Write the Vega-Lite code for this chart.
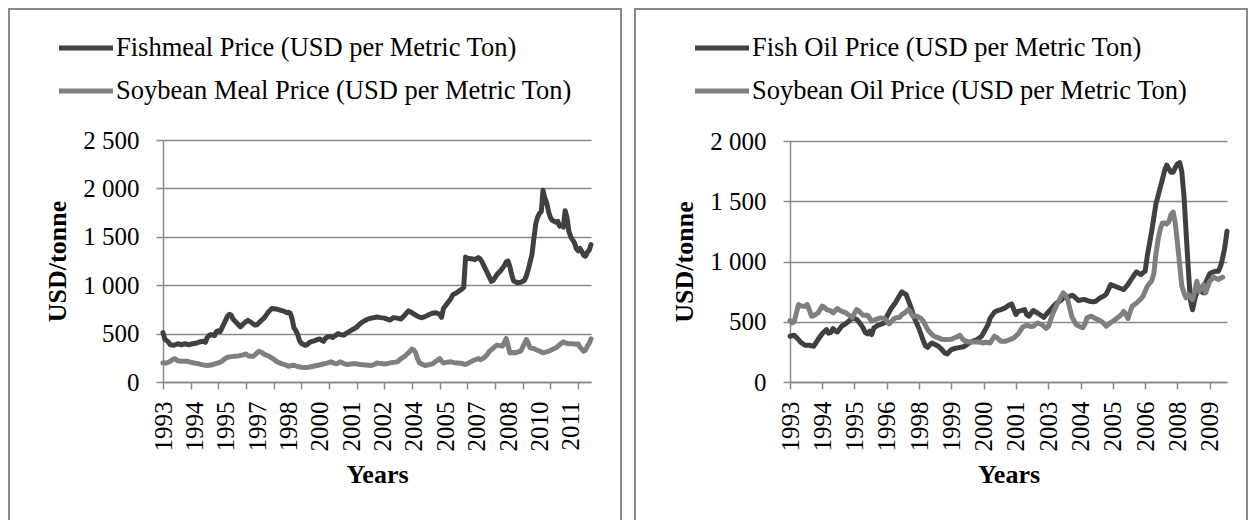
{
  "$schema": "https://vega.github.io/schema/vega-lite/v6.json",
  "background": "white",
  "padding": {"left": 8, "top": 8, "right": 0, "bottom": -5},
  "spacing": 12,
  "config": {
    "font": "Liberation Serif",
    "view": {"stroke": "#898989", "strokeWidth": 2},
    "axis": {"domainColor": "#898989", "domainWidth": 1.5, "tickColor": "#898989", "tickWidth": 1.5, "tickSize": 7, "gridColor": "#898989", "gridWidth": 1.5, "labelFont": "Liberation Serif", "labelFontSize": 25, "labelColor": "#000000", "titleFont": "Liberation Serif", "titleFontSize": 26, "titleFontWeight": "bold", "titleColor": "#000000"},
    "legend": {"labelFont": "Liberation Serif", "labelFontSize": 26.5, "labelColor": "#000000", "labelLimit": 1000, "symbolType": "M-2,0H2", "symbolSize": 729, "symbolStrokeWidth": 5, "labelOffset": 14, "rowPadding": 13, "padding": 0}
  },
  "datasets": {
    "fm": [
      {"d":"1993-01","v":510},{"d":"1993-02","v":440},{"d":"1993-03","v":430},{"d":"1993-04","v":410},{"d":"1993-05","v":385},{"d":"1993-07","v":380},{"d":"1993-09","v":395},{"d":"1993-11","v":385},
      {"d":"1994-01","v":395},{"d":"1994-03","v":385},{"d":"1994-05","v":395},{"d":"1994-07","v":400},{"d":"1994-09","v":415},{"d":"1994-11","v":420},{"d":"1994-12","v":410},
      {"d":"1995-01","v":460},{"d":"1995-02","v":480},{"d":"1995-03","v":490},{"d":"1995-05","v":480},{"d":"1995-06","v":520},{"d":"1995-07","v":530},{"d":"1995-08","v":520},{"d":"1995-09","v":560},{"d":"1995-11","v":640},{"d":"1995-12","v":680},
      {"d":"1996-01","v":700},{"d":"1996-02","v":690},{"d":"1996-03","v":650},{"d":"1996-05","v":610},{"d":"1996-06","v":590},{"d":"1996-07","v":570},{"d":"1996-08","v":590},{"d":"1996-09","v":610},{"d":"1996-11","v":637},{"d":"1996-12","v":625},
      {"d":"1997-01","v":612},{"d":"1997-03","v":588},{"d":"1997-04","v":590},{"d":"1997-06","v":630},{"d":"1997-08","v":665},{"d":"1997-10","v":720},{"d":"1997-11","v":740},{"d":"1997-12","v":760},
      {"d":"1998-02","v":755},{"d":"1998-04","v":745},{"d":"1998-06","v":735},{"d":"1998-07","v":728},{"d":"1998-08","v":715},{"d":"1998-09","v":720},{"d":"1998-10","v":710},{"d":"1998-11","v":650},{"d":"1998-12","v":560},
      {"d":"1999-01","v":530},{"d":"1999-02","v":490},{"d":"1999-03","v":430},{"d":"1999-04","v":400},{"d":"1999-05","v":390},{"d":"1999-06","v":380},{"d":"1999-07","v":385},{"d":"1999-09","v":415},{"d":"1999-11","v":425},
      {"d":"2000-01","v":440},{"d":"2000-02","v":445},{"d":"2000-03","v":430},{"d":"2000-04","v":420},{"d":"2000-05","v":450},{"d":"2000-06","v":465},{"d":"2000-08","v":470},{"d":"2000-09","v":460},{"d":"2000-10","v":474},{"d":"2000-12","v":500},
      {"d":"2001-01","v":490},{"d":"2001-03","v":484},{"d":"2001-05","v":510},{"d":"2001-07","v":533},{"d":"2001-09","v":555},{"d":"2001-10","v":567},{"d":"2001-12","v":605},
      {"d":"2002-02","v":630},{"d":"2002-04","v":650},{"d":"2002-06","v":660},{"d":"2002-09","v":671},{"d":"2002-11","v":665},
      {"d":"2003-01","v":660},{"d":"2003-04","v":640},{"d":"2003-06","v":665},{"d":"2003-08","v":660},{"d":"2003-10","v":650},{"d":"2003-12","v":690},
      {"d":"2004-02","v":735},{"d":"2004-04","v":715},{"d":"2004-06","v":690},{"d":"2004-08","v":670},{"d":"2004-09","v":664},{"d":"2004-11","v":675},
      {"d":"2005-01","v":695},{"d":"2005-03","v":710},{"d":"2005-05","v":716},{"d":"2005-07","v":700},{"d":"2005-08","v":668},{"d":"2005-09","v":760},{"d":"2005-11","v":810},
      {"d":"2006-01","v":860},{"d":"2006-02","v":900},{"d":"2006-04","v":920},{"d":"2006-05","v":934},{"d":"2006-07","v":960},{"d":"2006-08","v":975},{"d":"2006-09","v":1290},{"d":"2006-10","v":1280},{"d":"2006-11","v":1275},
      {"d":"2007-01","v":1270},{"d":"2007-02","v":1265},{"d":"2007-03","v":1275},{"d":"2007-04","v":1285},{"d":"2007-05","v":1270},{"d":"2007-06","v":1240},{"d":"2007-07","v":1200},{"d":"2007-09","v":1120},{"d":"2007-11","v":1040},{"d":"2007-12","v":1050},
      {"d":"2008-02","v":1110},{"d":"2008-04","v":1150},{"d":"2008-06","v":1200},{"d":"2008-07","v":1240},{"d":"2008-08","v":1250},{"d":"2008-09","v":1190},{"d":"2008-10","v":1110},{"d":"2008-11","v":1045},
      {"d":"2009-01","v":1025},{"d":"2009-03","v":1030},{"d":"2009-05","v":1050},{"d":"2009-06","v":1100},{"d":"2009-07","v":1160},{"d":"2009-08","v":1240},{"d":"2009-09","v":1320},{"d":"2009-10","v":1480},{"d":"2009-11","v":1630},{"d":"2009-12","v":1700},
      {"d":"2010-01","v":1740},{"d":"2010-02","v":1760},{"d":"2010-03","v":1980},{"d":"2010-04","v":1900},{"d":"2010-05","v":1850},{"d":"2010-06","v":1760},{"d":"2010-07","v":1700},{"d":"2010-08","v":1670},{"d":"2010-09","v":1660},{"d":"2010-10","v":1650},{"d":"2010-11","v":1660},{"d":"2010-12","v":1610},
      {"d":"2011-01","v":1620},{"d":"2011-02","v":1600},{"d":"2011-03","v":1770},{"d":"2011-04","v":1700},{"d":"2011-05","v":1560},{"d":"2011-06","v":1500},{"d":"2011-07","v":1470},{"d":"2011-08","v":1440},{"d":"2011-09","v":1380},{"d":"2011-10","v":1356},{"d":"2011-11","v":1380},{"d":"2011-12","v":1350},
      {"d":"2012-01","v":1310},{"d":"2012-02","v":1300},{"d":"2012-03","v":1340},{"d":"2012-04","v":1360},{"d":"2012-05","v":1420}
    ],
    "sm": [
      {"d":"1993-01","v":197},{"d":"1993-03","v":197},{"d":"1993-05","v":215},{"d":"1993-07","v":240},{"d":"1993-08","v":235},{"d":"1993-09","v":220},{"d":"1993-11","v":214},
      {"d":"1994-02","v":214},{"d":"1994-04","v":205},{"d":"1994-06","v":197},{"d":"1994-08","v":190},{"d":"1994-10","v":180},{"d":"1994-12","v":172},
      {"d":"1995-01","v":170},{"d":"1995-03","v":175},{"d":"1995-05","v":187},{"d":"1995-07","v":197},{"d":"1995-09","v":215},{"d":"1995-10","v":232},{"d":"1995-12","v":256},
      {"d":"1996-02","v":262},{"d":"1996-04","v":266},{"d":"1996-06","v":270},{"d":"1996-08","v":278},{"d":"1996-10","v":290},{"d":"1996-11","v":275},{"d":"1996-12","v":266},
      {"d":"1997-02","v":266},{"d":"1997-04","v":300},{"d":"1997-05","v":318},{"d":"1997-07","v":300},{"d":"1997-08","v":284},{"d":"1997-10","v":270},{"d":"1997-11","v":260},
      {"d":"1998-01","v":235},{"d":"1998-03","v":208},{"d":"1998-05","v":190},{"d":"1998-07","v":180},{"d":"1998-09","v":163},{"d":"1998-11","v":170},{"d":"1998-12","v":173},
      {"d":"1999-02","v":160},{"d":"1999-04","v":152},{"d":"1999-06","v":150},{"d":"1999-08","v":152},{"d":"1999-10","v":160},
      {"d":"2000-01","v":173},{"d":"2000-03","v":180},{"d":"2000-04","v":187},{"d":"2000-06","v":195},{"d":"2000-08","v":208},{"d":"2000-10","v":192},{"d":"2000-11","v":187},
      {"d":"2001-01","v":208},{"d":"2001-03","v":190},{"d":"2001-05","v":180},{"d":"2001-07","v":187},{"d":"2001-09","v":190},{"d":"2001-12","v":180},
      {"d":"2002-03","v":175},{"d":"2002-06","v":170},{"d":"2002-08","v":185},{"d":"2002-09","v":197},{"d":"2002-11","v":190},
      {"d":"2003-01","v":187},{"d":"2003-03","v":192},{"d":"2003-05","v":200},{"d":"2003-08","v":208},{"d":"2003-10","v":240},{"d":"2003-12","v":266},
      {"d":"2004-02","v":301},{"d":"2004-04","v":340},{"d":"2004-05","v":330},{"d":"2004-06","v":301},{"d":"2004-07","v":240},{"d":"2004-08","v":200},{"d":"2004-09","v":187},{"d":"2004-11","v":170},
      {"d":"2005-01","v":178},{"d":"2005-03","v":187},{"d":"2005-05","v":215},{"d":"2005-07","v":242},{"d":"2005-08","v":215},{"d":"2005-09","v":197},{"d":"2005-11","v":205},
      {"d":"2006-01","v":208},{"d":"2006-03","v":200},{"d":"2006-05","v":197},{"d":"2006-07","v":192},{"d":"2006-09","v":180},{"d":"2006-11","v":200},
      {"d":"2007-01","v":221},{"d":"2007-03","v":235},{"d":"2007-04","v":242},{"d":"2007-05","v":230},{"d":"2007-07","v":249},{"d":"2007-09","v":290},{"d":"2007-10","v":318},{"d":"2007-12","v":350},
      {"d":"2008-02","v":381},{"d":"2008-04","v":375},{"d":"2008-05","v":370},{"d":"2008-06","v":410},{"d":"2008-07","v":450},{"d":"2008-08","v":380},{"d":"2008-09","v":301},{"d":"2008-11","v":305},{"d":"2008-12","v":301},
      {"d":"2009-02","v":315},{"d":"2009-03","v":320},{"d":"2009-05","v":400},{"d":"2009-06","v":440},{"d":"2009-07","v":400},{"d":"2009-08","v":353},{"d":"2009-10","v":345},{"d":"2009-11","v":336},
      {"d":"2010-01","v":320},{"d":"2010-03","v":301},{"d":"2010-05","v":312},{"d":"2010-06","v":318},{"d":"2010-08","v":335},{"d":"2010-10","v":353},{"d":"2010-12","v":385},
      {"d":"2011-02","v":415},{"d":"2011-03","v":405},{"d":"2011-05","v":394},{"d":"2011-07","v":395},{"d":"2011-09","v":390},{"d":"2011-10","v":394},{"d":"2011-11","v":360},
      {"d":"2012-01","v":318},{"d":"2012-02","v":330},{"d":"2012-03","v":370},{"d":"2012-04","v":400},{"d":"2012-05","v":446}
    ],
    "fo": [
      {"d":"1993-01","v":380},{"d":"1993-03","v":388},{"d":"1993-05","v":352},{"d":"1993-06","v":330},{"d":"1993-08","v":305},{"d":"1993-10","v":305},{"d":"1993-12","v":296},
      {"d":"1994-02","v":352},{"d":"1994-04","v":400},{"d":"1994-06","v":435},{"d":"1994-07","v":405},{"d":"1994-08","v":410},{"d":"1994-09","v":443},{"d":"1994-10","v":425},{"d":"1994-11","v":415},
      {"d":"1995-01","v":463},{"d":"1995-03","v":485},{"d":"1995-04","v":499},{"d":"1995-06","v":532},{"d":"1995-08","v":520},{"d":"1995-09","v":500},{"d":"1995-11","v":449},{"d":"1995-12","v":410},
      {"d":"1996-01","v":399},{"d":"1996-02","v":421},{"d":"1996-03","v":393},{"d":"1996-04","v":449},{"d":"1996-06","v":471},{"d":"1996-08","v":485},{"d":"1996-09","v":490},{"d":"1996-10","v":546},{"d":"1996-12","v":610},
      {"d":"1997-02","v":660},{"d":"1997-04","v":720},{"d":"1997-05","v":748},{"d":"1997-07","v":726},{"d":"1997-09","v":629},{"d":"1997-11","v":520},
      {"d":"1998-01","v":440},{"d":"1998-02","v":388},{"d":"1998-03","v":340},{"d":"1998-04","v":300},{"d":"1998-05","v":288},{"d":"1998-06","v":310},{"d":"1998-07","v":324},{"d":"1998-09","v":305},{"d":"1998-10","v":296},{"d":"1998-11","v":280},
      {"d":"1999-01","v":240},{"d":"1999-02","v":233},{"d":"1999-03","v":250},{"d":"1999-04","v":269},{"d":"1999-06","v":280},{"d":"1999-07","v":283},{"d":"1999-09","v":290},{"d":"1999-10","v":296},{"d":"1999-12","v":320},
      {"d":"2000-01","v":332},{"d":"2000-03","v":345},{"d":"2000-04","v":352},{"d":"2000-06","v":380},{"d":"2000-07","v":410},{"d":"2000-09","v":476},{"d":"2000-10","v":530},{"d":"2000-12","v":580},
      {"d":"2001-01","v":590},{"d":"2001-03","v":601},{"d":"2001-05","v":615},{"d":"2001-06","v":629},{"d":"2001-07","v":640},{"d":"2001-08","v":648},{"d":"2001-09","v":600},{"d":"2001-10","v":560},{"d":"2001-11","v":587},{"d":"2001-12","v":590},
      {"d":"2002-02","v":601},{"d":"2002-03","v":560},{"d":"2002-04","v":546},{"d":"2002-06","v":593},{"d":"2002-08","v":573},{"d":"2002-09","v":560},{"d":"2002-11","v":537},{"d":"2002-12","v":560},
      {"d":"2003-02","v":601},{"d":"2003-04","v":640},{"d":"2003-05","v":656},{"d":"2003-07","v":680},{"d":"2003-08","v":698},{"d":"2003-10","v":704},{"d":"2003-12","v":720},
      {"d":"2004-01","v":710},{"d":"2004-03","v":676},{"d":"2004-05","v":684},{"d":"2004-06","v":684},{"d":"2004-08","v":670},{"d":"2004-10","v":665},{"d":"2004-11","v":670},
      {"d":"2005-01","v":698},{"d":"2005-03","v":715},{"d":"2005-04","v":731},{"d":"2005-06","v":809},{"d":"2005-07","v":800},{"d":"2005-08","v":795},{"d":"2005-10","v":780},{"d":"2005-12","v":767},
      {"d":"2006-02","v":810},{"d":"2006-03","v":836},{"d":"2006-05","v":890},{"d":"2006-06","v":914},{"d":"2006-08","v":892},{"d":"2006-10","v":920},{"d":"2006-11","v":1050},
      {"d":"2007-01","v":1250},{"d":"2007-03","v":1474},{"d":"2007-05","v":1612},{"d":"2007-06","v":1680},{"d":"2007-07","v":1750},{"d":"2007-08","v":1800},{"d":"2007-09","v":1770},{"d":"2007-10","v":1740},{"d":"2007-11","v":1740},{"d":"2007-12","v":1780},
      {"d":"2008-01","v":1810},{"d":"2008-02","v":1820},{"d":"2008-03","v":1750},{"d":"2008-04","v":1550},{"d":"2008-05","v":1250},{"d":"2008-06","v":950},{"d":"2008-07","v":680},{"d":"2008-08","v":600},{"d":"2008-09","v":684},{"d":"2008-10","v":753},{"d":"2008-11","v":760},
      {"d":"2009-01","v":740},{"d":"2009-02","v":823},{"d":"2009-04","v":900},{"d":"2009-05","v":910},{"d":"2009-07","v":920},{"d":"2009-08","v":920},{"d":"2009-09","v":960},{"d":"2009-10","v":1030},{"d":"2009-11","v":1120},{"d":"2009-12","v":1252}
    ],
    "so": [
      {"d":"1993-01","v":510},{"d":"1993-02","v":490},{"d":"1993-03","v":500},{"d":"1993-05","v":643},{"d":"1993-06","v":630},{"d":"1993-08","v":629},{"d":"1993-09","v":643},{"d":"1993-10","v":600},{"d":"1993-11","v":546},{"d":"1993-12","v":550},
      {"d":"1994-02","v":573},{"d":"1994-04","v":630},{"d":"1994-05","v":620},{"d":"1994-06","v":601},{"d":"1994-08","v":590},{"d":"1994-09","v":573},{"d":"1994-11","v":609},
      {"d":"1995-01","v":587},{"d":"1995-03","v":575},{"d":"1995-04","v":560},{"d":"1995-06","v":537},{"d":"1995-08","v":601},{"d":"1995-09","v":590},{"d":"1995-11","v":554},
      {"d":"1996-01","v":554},{"d":"1996-02","v":530},{"d":"1996-03","v":504},{"d":"1996-05","v":520},{"d":"1996-07","v":532},{"d":"1996-09","v":526},{"d":"1996-11","v":482},
      {"d":"1997-01","v":520},{"d":"1997-02","v":532},{"d":"1997-04","v":537},{"d":"1997-05","v":560},{"d":"1997-06","v":570},{"d":"1997-08","v":601},{"d":"1997-09","v":580},{"d":"1997-10","v":546},{"d":"1997-12","v":546},
      {"d":"1998-02","v":525},{"d":"1998-03","v":505},{"d":"1998-05","v":435},{"d":"1998-07","v":393},{"d":"1998-08","v":380},{"d":"1998-10","v":366},{"d":"1998-12","v":352},
      {"d":"1999-02","v":352},{"d":"1999-04","v":355},{"d":"1999-06","v":370},{"d":"1999-08","v":388},{"d":"1999-09","v":360},{"d":"1999-10","v":343},{"d":"1999-12","v":332},
      {"d":"2000-03","v":332},{"d":"2000-05","v":332},{"d":"2000-07","v":324},{"d":"2000-08","v":330},{"d":"2000-10","v":324},{"d":"2000-12","v":380},
      {"d":"2001-01","v":370},{"d":"2001-03","v":338},{"d":"2001-05","v":338},{"d":"2001-07","v":350},{"d":"2001-09","v":366},{"d":"2001-11","v":399},
      {"d":"2002-01","v":454},{"d":"2002-03","v":471},{"d":"2002-05","v":460},{"d":"2002-06","v":463},{"d":"2002-08","v":490},{"d":"2002-10","v":476},{"d":"2002-12","v":445},
      {"d":"2003-01","v":460},{"d":"2003-03","v":560},{"d":"2003-05","v":640},{"d":"2003-07","v":710},{"d":"2003-08","v":740},{"d":"2003-09","v":720},{"d":"2003-10","v":684},{"d":"2003-11","v":610},{"d":"2003-12","v":540},
      {"d":"2004-02","v":475},{"d":"2004-03","v":465},{"d":"2004-05","v":450},{"d":"2004-06","v":480},{"d":"2004-07","v":532},{"d":"2004-09","v":546},{"d":"2004-11","v":525},{"d":"2004-12","v":518},
      {"d":"2005-02","v":499},{"d":"2005-04","v":463},{"d":"2005-05","v":480},{"d":"2005-07","v":504},{"d":"2005-09","v":532},{"d":"2005-11","v":560},{"d":"2005-12","v":587},
      {"d":"2006-01","v":560},{"d":"2006-02","v":526},{"d":"2006-03","v":580},{"d":"2006-04","v":629},{"d":"2006-06","v":656},{"d":"2006-08","v":690},{"d":"2006-09","v":712},{"d":"2006-11","v":795},
      {"d":"2007-01","v":840},{"d":"2007-02","v":900},{"d":"2007-03","v":1058},{"d":"2007-04","v":1180},{"d":"2007-05","v":1266},{"d":"2007-06","v":1320},{"d":"2007-07","v":1320},{"d":"2007-08","v":1310},{"d":"2007-09","v":1330},{"d":"2007-10","v":1390},{"d":"2007-11","v":1410},{"d":"2007-12","v":1320},
      {"d":"2008-01","v":1150},{"d":"2008-02","v":975},{"d":"2008-03","v":800},{"d":"2008-04","v":740},{"d":"2008-05","v":698},{"d":"2008-06","v":726},{"d":"2008-07","v":705},{"d":"2008-08","v":684},{"d":"2008-09","v":760},{"d":"2008-10","v":836},{"d":"2008-11","v":753},{"d":"2008-12","v":780},
      {"d":"2009-01","v":809},{"d":"2009-02","v":740},{"d":"2009-04","v":836},{"d":"2009-06","v":870},{"d":"2009-07","v":860},{"d":"2009-08","v":850},{"d":"2009-09","v":862},{"d":"2009-10","v":870}
    ]
  },
  "hconcat": [
    {
      "width": 612,
      "height": 515,
      "encoding": {
        "y": {
          "field": "v", "type": "quantitative",
          "scale": {"domain": [0, 2500], "range": [373, 131], "nice": false},
          "axis": {
            "values": [0, 500, 1000, 1500, 2000, 2500],
            "labelExpr": "replace(format(datum.value, ','), ',', ' ')",
            "grid": true, "offset": -154, "labelPadding": 17, "title": "USD/tonne", "titlePadding": 12
          }
        }
      },
      "layer": [
        {
          "data": {"name": "fm"},
          "mark": {"type": "line", "strokeWidth": 5, "strokeJoin": "round", "strokeCap": "round"},
          "encoding": {
            "x": {
              "field": "d", "type": "temporal",
              "scale": {"type": "utc", "domain": [{"year":1993,"month":1,"date":1,"utc":true},{"year":2012,"month":5,"date":1,"utc":true}], "range": [154, 582]},
              "axis": {
                "orient": "bottom",
                "values": [{"year":1993,"month":1,"date":1,"utc":true},{"year":1994,"month":6,"date":1,"utc":true},{"year":1995,"month":11,"date":1,"utc":true},{"year":1997,"month":4,"date":1,"utc":true},{"year":1998,"month":9,"date":1,"utc":true},{"year":2000,"month":2,"date":1,"utc":true},{"year":2001,"month":7,"date":1,"utc":true},{"year":2002,"month":12,"date":1,"utc":true},{"year":2004,"month":5,"date":1,"utc":true},{"year":2005,"month":10,"date":1,"utc":true},{"year":2007,"month":3,"date":1,"utc":true},{"year":2008,"month":8,"date":1,"utc":true},{"year":2010,"month":1,"date":1,"utc":true},{"year":2011,"month":6,"date":1,"utc":true}],
                "labelExpr": "utcFormat(datum.value, '%Y')",
                "labelAngle": 270, "labelPadding": 19, "labelFlush": false, "labelOverlap": false,
                "ticks": false, "domain": false,
                "grid": false, "offset": -142, "title": "Years", "titlePadding": 10
              }
            },
            "color": {
              "datum": "Fishmeal Price (USD per Metric Ton)",
              "scale": {"domain": ["Fishmeal Price (USD per Metric Ton)", "Soybean Meal Price (USD per Metric Ton)"], "range": ["#404040", "#7f7f7f"]},
              "legend": {"orient": "none", "legendX": 61, "legendY": 23, "title": null}
            }
          }
        },
        {
          "data": {"name": "sm"},
          "mark": {"type": "line", "strokeWidth": 5, "strokeJoin": "round", "strokeCap": "round"},
          "encoding": {
            "x": {
              "field": "d", "type": "temporal",
              "axis": {
                "orient": "bottom",
                "values": [{"year":1993,"month":1,"date":1,"utc":true},{"year":1994,"month":4,"date":1,"utc":true},{"year":1995,"month":7,"date":1,"utc":true},{"year":1996,"month":10,"date":1,"utc":true},{"year":1998,"month":1,"date":1,"utc":true},{"year":1999,"month":4,"date":1,"utc":true},{"year":2000,"month":7,"date":1,"utc":true},{"year":2001,"month":10,"date":1,"utc":true},{"year":2003,"month":1,"date":1,"utc":true},{"year":2004,"month":4,"date":1,"utc":true},{"year":2005,"month":7,"date":1,"utc":true},{"year":2006,"month":10,"date":1,"utc":true},{"year":2008,"month":1,"date":1,"utc":true},{"year":2009,"month":4,"date":1,"utc":true},{"year":2010,"month":7,"date":1,"utc":true},{"year":2011,"month":10,"date":1,"utc":true}],
                "labels": false, "ticks": true, "domain": true,
                "grid": false, "offset": -142, "title": null
              }
            },
            "color": {"datum": "Soybean Meal Price (USD per Metric Ton)"}
          }
        }
      ],
      "resolve": {"axis": {"x": "independent"}}
    },
    {
      "width": 612,
      "height": 515,
      "encoding": {
        "x": {
          "field": "d", "type": "temporal",
          "scale": {"type": "utc", "domain": [{"year":1993,"month":1,"date":1,"utc":true},{"year":2009,"month":12,"date":1,"utc":true}], "range": [155, 592]},
          "axis": {
            "values": [{"year":1993,"month":1,"date":1,"utc":true},{"year":1994,"month":4,"date":1,"utc":true},{"year":1995,"month":7,"date":1,"utc":true},{"year":1996,"month":10,"date":1,"utc":true},{"year":1998,"month":1,"date":1,"utc":true},{"year":1999,"month":4,"date":1,"utc":true},{"year":2000,"month":7,"date":1,"utc":true},{"year":2001,"month":10,"date":1,"utc":true},{"year":2003,"month":1,"date":1,"utc":true},{"year":2004,"month":4,"date":1,"utc":true},{"year":2005,"month":7,"date":1,"utc":true},{"year":2006,"month":10,"date":1,"utc":true},{"year":2008,"month":1,"date":1,"utc":true},{"year":2009,"month":4,"date":1,"utc":true}],
            "labelExpr": "utcFormat(datum.value, '%Y')",
            "labelAngle": 270, "labelPadding": 12, "labelFlush": false, "labelOverlap": false,
            "grid": false, "offset": -142, "title": "Years", "titlePadding": 10
          }
        },
        "y": {
          "field": "v", "type": "quantitative",
          "scale": {"domain": [0, 2000], "range": [373, 132], "nice": false},
          "axis": {
            "values": [0, 500, 1000, 1500, 2000],
            "labelExpr": "replace(format(datum.value, ','), ',', ' ')",
            "grid": true, "offset": -155, "labelPadding": 17, "title": "USD/tonne", "titlePadding": 12
          }
        }
      },
      "layer": [
        {
          "data": {"name": "fo"},
          "mark": {"type": "line", "strokeWidth": 5, "strokeJoin": "round", "strokeCap": "round"},
          "encoding": {
            "color": {
              "datum": "Fish Oil Price (USD per Metric Ton)",
              "scale": {"domain": ["Fish Oil Price (USD per Metric Ton)", "Soybean Oil Price (USD per Metric Ton)"], "range": ["#404040", "#7f7f7f"]},
              "legend": {"orient": "none", "legendX": 71, "legendY": 23, "title": null}
            }
          }
        },
        {
          "data": {"name": "so"},
          "mark": {"type": "line", "strokeWidth": 5, "strokeJoin": "round", "strokeCap": "round"},
          "encoding": {
            "color": {"datum": "Soybean Oil Price (USD per Metric Ton)"}
          }
        }
      ]
    }
  ],
  "resolve": {"scale": {"color": "independent"}, "legend": {"color": "independent"}}
}
